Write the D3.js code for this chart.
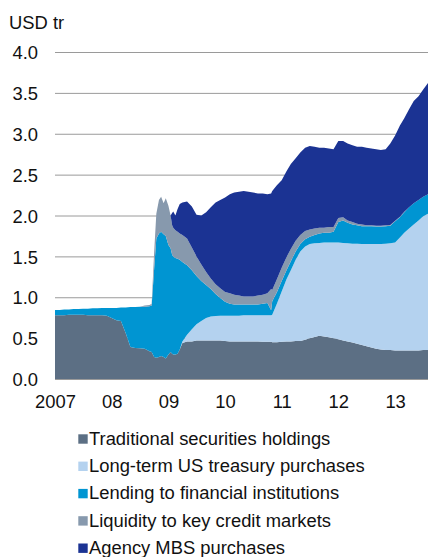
<!DOCTYPE html>
<html>
<head>
<meta charset="utf-8">
<script src="https://cdn.jsdelivr.net/npm/d3@7"></script>
<style>
  body { margin: 0; background: #fff; }
  text { font-family: "Liberation Sans", Arial, Helvetica, sans-serif; fill: #111; }
</style>
</head>
<body>
<svg id="chart" width="428" height="557"></svg>
<script>
// Federal Reserve asset holdings, USD trillion
const dates = [
  "2007-01-01","2007-02-01","2007-03-01","2007-04-01","2007-05-01","2007-06-01",
  "2007-07-01","2007-08-01","2007-09-01","2007-10-01","2007-11-01","2007-12-01",
  "2008-01-01","2008-02-01","2008-03-01","2008-04-01","2008-05-01","2008-06-01",
  "2008-07-01","2008-08-01","2008-09-01","2008-09-15","2008-10-01","2008-10-15",
  "2008-11-01","2008-11-15","2008-12-01","2008-12-15","2009-01-01","2009-01-15",
  "2009-01-25","2009-02-01","2009-02-15","2009-03-01","2009-03-15","2009-04-01",
  "2009-05-01","2009-06-01","2009-07-01","2009-08-01","2009-09-01","2009-10-01",
  "2009-11-01","2009-12-01","2010-01-01","2010-02-01","2010-03-01","2010-04-01",
  "2010-05-01","2010-06-01","2010-07-01","2010-08-01","2010-09-01","2010-10-01",
  "2010-10-25","2010-11-01","2010-12-01","2011-01-01","2011-02-01","2011-03-01",
  "2011-04-01","2011-05-01","2011-06-01","2011-07-01","2011-08-01","2011-09-01",
  "2011-10-01","2011-11-01","2011-12-01","2012-01-01","2012-02-01","2012-03-01",
  "2012-04-01","2012-05-01","2012-06-01","2012-07-01","2012-08-01","2012-09-01",
  "2012-10-01","2012-11-01","2012-12-01","2013-01-01","2013-02-01","2013-03-01",
  "2013-04-01","2013-05-01","2013-06-01","2013-07-01","2013-08-01"
];

const traditional = [
  .78,.78,.78,.785,.785,.785, .785,.78,.78,.78,.78,.775,
  .745,.72,.71,.56,.39,.38, .375,.37,.34,.33,.27,.26,
  .27,.28,.27,.25,.30,.33, .31,.30,.30,.31,.36,.44,
  .46,.46,.47,.47,.47,.47, .47,.47,.465,.46,.46,.46,
  .46,.46,.46,.46,.455,.455, .455,.45,.45,.455,.46,.46,
  .465,.465,.48,.50,.515,.53, .52,.51,.50,.485,.47,.46,
  .445,.43,.415,.40,.385,.37, .36,.355,.355,.35,.35,.35,
  .35,.35,.35,.355,.355
];

const treasury = [
  0,0,0,0,0,0, 0,0,0,0,0,0,
  0,0,0,0,0,0, 0,0,0,0,0,0,
  0,0,0,0,0,0, 0,0,0,0,0,.02,
  .08,.15,.20,.24,.275,.295, .30,.305,.31,.315,.315,.315,
  .32,.32,.32,.32,.325,.325, .325,.335,.47,.615,.76,.87,
  .995,1.095,1.14,1.15,1.145,1.135, 1.15,1.16,1.17,1.185,1.195,1.20,
  1.21,1.225,1.235,1.25,1.265,1.28, 1.29,1.30,1.305,1.32,1.38,1.44,
  1.49,1.54,1.59,1.635,1.665
];

const lending = [
  .065,.065,.07,.065,.07,.07, .075,.08,.085,.085,.09,.095,
  .125,.15,.165,.315,.49,.50, .51,.515,.55,.57,1.08,1.46,
  1.51,1.52,1.50,1.50,1.34,1.27, 1.21,1.20,1.18,1.16,1.10,.97,
  .85,.72,.59,.49,.405,.335, .27,.215,.17,.145,.135,.135,
  .13,.13,.13,.13,.14,.15, .06,.165,.14,.13,.11,.11,
  .10,.09,.09,.09,.10,.115, .12,.12,.13,.25,.275,.25,
  .235,.225,.22,.22,.22,.215, .215,.215,.215,.26,.25,.25,
  .26,.26,.25,.24,.24
];

const liquidity = [
  0,0,0,0,0,0, 0,0,0,0,0,0,
  0,0,0,0,0,0, 0,.015,.015,.02,.20,.30,
  .41,.43,.38,.46,.48,.40, .36,.35,.34,.33,.32,.33,
  .33,.28,.24,.20,.16,.13, .12,.12,.12,.13,.12,.11,
  .10,.10,.10,.11,.11,.12, .26,.14,.16,.16,.16,.15,
  .13,.11,.10,.09,.08,.07, .06,.07,.06,.05,.04,.03,
  .03,.02,.02,.01,.01,.01, .01,.01,.01,.005,.005,.005,
  0,0,0,0,0
];

const mbs = [
  0,0,0,0,0,0, 0,0,0,0,0,0,
  0,0,0,0,0,0, 0,0,0,0,0,0,
  0,0,0,0,0,0, .15,.20,.18,.28,.36,.40,
  .45,.50,.51,.60,.73,.87, 1.00,1.08,1.155,1.21,1.25,1.27,
  1.29,1.28,1.27,1.25,1.24,1.21, 1.17,1.21,1.15,1.07,1.05,1.04,
  1.01,1.01,1.02,1.02,1.00,.98, .98,.96,.95,.94,.93,.94,
  .94,.94,.95,.95,.94,.935, .925,.93,.995,1.045,1.115,1.145,
  1.20,1.25,1.27,1.31,1.36
];

const seriesKeys = ["traditional", "treasury", "lending", "liquidity", "mbs"];
const seriesNames = [
  "Traditional securities holdings",
  "Long-term US treasury purchases",
  "Lending to financial institutions",
  "Liquidity to key credit markets",
  "Agency MBS purchases"
];
const seriesColors = ["#5c6f84", "#b4d2ef", "#0095d2", "#8799ad", "#1b3393"];

const yTicks = [0, 0.5, 1, 1.5, 2, 2.5, 3, 3.5, 4];
const xTickDates = ["2007-01-01","2008-01-01","2009-01-01","2010-01-01","2011-01-01","2012-01-01","2013-01-01"];
const xTickLabels = ["2007","08","09","10","11","12","13"];

const parse = d3.timeParse("%Y-%m-%d");
const rows = dates.map((d, i) => ({
  date: parse(d),
  traditional: traditional[i],
  treasury: treasury[i],
  lending: lending[i],
  liquidity: liquidity[i],
  mbs: mbs[i]
}));

const plot = { left: 55, right: 428, top: 52, bottom: 379 };
const FS = 17.5, SX = 1.05;   // type size and horizontal stretch of the lettering
const FONT = '"Liberation Sans", Arial, sans-serif';

const svg = d3.select("#chart");

const x = d3.scaleTime()
  .domain([parse("2007-01-01"), parse("2013-08-01")])
  .range([plot.left, plot.right]);
const y = d3.scaleLinear().domain([0, 4]).range([plot.bottom, plot.top]);

// horizontal gridlines behind the areas
const grid = svg.append("g")
  .attr("transform", `translate(${plot.left},0)`)
  .call(d3.axisLeft(y).tickValues(yTicks).tickSize(-(plot.right - plot.left)).tickFormat(""));
grid.select(".domain").remove();
grid.selectAll("line").attr("stroke", "#9a9a9a").attr("stroke-width", 1);

// stacked areas
const stacked = d3.stack().keys(seriesKeys)(rows);
const area = d3.area()
  .x(d => x(d.data.date))
  .y0(d => y(d[0]))
  .y1(d => y(d[1]))
  .curve(d3.curveLinear);

svg.append("g").selectAll("path")
  .data(stacked)
  .join("path")
  .attr("d", area)
  .attr("fill", (d, i) => seriesColors[i]);

// y axis labels
const yAxis = svg.append("g")
  .attr("transform", "translate(38,0)")
  .call(d3.axisLeft(y).tickValues(yTicks).tickFormat(d3.format(".1f")).tickSize(0).tickPadding(0));
yAxis.select(".domain").remove();
yAxis.selectAll("text")
  .attr("x", 0)
  .attr("dy", "0.38em")
  .attr("transform", `scale(${SX},1)`)
  .style("font-size", FS + "px")
  .style("font-family", FONT)
  .attr("fill", "#111");

// x axis labels
const xAxis = svg.append("g")
  .attr("transform", `translate(0,${plot.bottom})`)
  .call(d3.axisBottom(x)
    .tickValues(xTickDates.map(parse))
    .tickFormat((d, i) => xTickLabels[i])
    .tickSize(0).tickPadding(16.5));
xAxis.select(".domain").remove();
xAxis.selectAll("text")
  .attr("transform", `scale(${SX},1)`)
  .style("font-size", FS + "px")
  .style("font-family", FONT)
  .attr("fill", "#111");

// unit label
svg.append("text")
  .attr("transform", `translate(9,28.5) scale(${SX},1)`)
  .style("font-size", FS + "px")
  .text("USD tr");

// legend
const legend = svg.append("g");
seriesNames.forEach((name, i) => {
  const cy = 439 + i * 27.3;
  legend.append("rect")
    .attr("x", 78.3).attr("y", cy - 4.7)
    .attr("width", 9.4).attr("height", 9.4)
    .attr("fill", seriesColors[i]);
  legend.append("text")
    .attr("transform", `translate(89,${cy + 5.8}) scale(${SX},1)`)
    .style("font-size", FS + "px")
    .text(name);
});
</script>
</body>
</html>
